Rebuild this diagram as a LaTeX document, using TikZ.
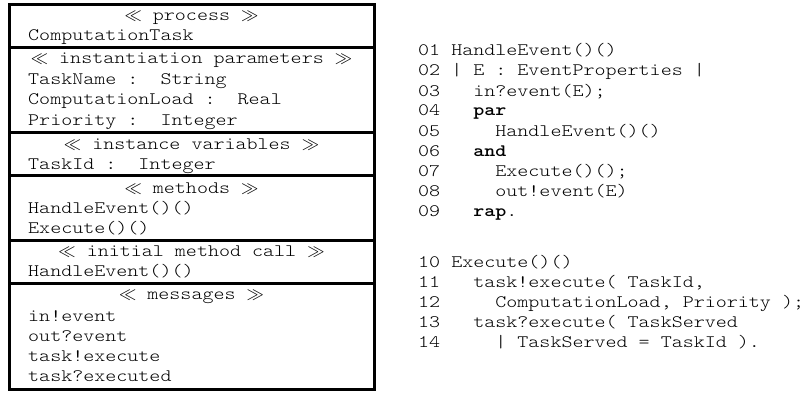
\documentclass[tikz,border=0pt]{standalone}
\usepackage{fontspec}
\setmonofont[BoldFont=lmmonolt10-bold.otf,FakeStretch=1.2]{lmmonolt10-regular.otf}
\newcommand{\guil}{\ensuremath{\ll}}
\newcommand{\guir}{\ensuremath{\gg}}
\begin{document}
\begin{tikzpicture}[x=1pt,y=-1pt,
  txt/.style={inner sep=0pt,anchor=base west,font=\fontsize{17.5}{20}\ttfamily},
  hdr/.style={inner sep=0pt,anchor=base,font=\fontsize{17.5}{20}\ttfamily},
  code/.style={inner sep=0pt,anchor=base west,font=\fontsize{17.5}{20}\ttfamily},
  frame/.style={line width=3pt},
  divider/.style={line width=3pt}]
\useasboundingbox (0,0) rectangle (810,393);
% class box
\def\R{374}
\def\C{191.5}
\draw[frame] (9,5) rectangle (\R,389);
\foreach \yy in {47.5,132,175.5,240,283}{\draw[divider] (9,\yy) -- (\R,\yy);}
\node[hdr] (h1) at (\C,21) {\guil\ process \guir};
\node[txt] (t1) at (28,41) {ComputationTask};
\node[hdr] (h2) at (\C,64) {\guil\ instantiation parameters \guir};
\node[txt] (t2) at (28,84.5) {TaskName :\ \ String};
\node[txt] (t3) at (28,105) {ComputationLoad :\ \ Real};
\node[txt] (t4) at (28,125.5) {Priority :\ \ Integer};
\node[hdr] (h3) at (\C,149) {\guil\ instance variables \guir};
\node[txt] (t5) at (28,169) {TaskId :\ \ Integer};
\node[hdr] (h4) at (\C,193) {\guil\ methods \guir};
\node[txt] (t6) at (28,213) {HandleEvent()()};
\node[txt] (t7) at (28,233) {Execute()()};
\node[hdr] (h5) at (\C,256) {\guil\ initial method call \guir};
\node[txt] (t8) at (28,276.5) {HandleEvent()()};
\node[hdr] (h6) at (\C,299.5) {\guil\ messages \guir};
\node[txt] (t9) at (28,321) {in!event};
\node[txt] (t10) at (28,341) {out?event};
\node[txt] (t11) at (28,361) {task!execute};
\node[txt] (t12) at (28,381) {task?executed};
% code listing
\node[code] (c1) at (418,56) {01 HandleEvent()()};
\node[code] (c2) at (418,76) {02 | E : EventProperties |};
\node[code] (c3) at (418,96) {03\ \ \ in?event(E);};
\node[code] (c4) at (418,116) {04\ \ \ \textbf{par}};
\node[code] (c5) at (418,136) {05\ \ \ \ \ HandleEvent()()};
\node[code] (c6) at (418,156) {06\ \ \ \textbf{and}};
\node[code] (c7) at (418,176) {07\ \ \ \ \ Execute()();};
\node[code] (c8) at (418,196) {08\ \ \ \ \ out!event(E)};
\node[code] (c9) at (418,216) {09\ \ \ \textbf{rap}.};
\node[code] (c10) at (418,267) {10 Execute()()};
\node[code] (c11) at (418,287) {11\ \ \ task!execute( TaskId,};
\node[code] (c12) at (418,307) {12\ \ \ \ \ ComputationLoad, Priority );};
\node[code] (c13) at (418,327) {13\ \ \ task?execute( TaskServed};
\node[code] (c14) at (418,347) {14\ \ \ \ \ | TaskServed = TaskId ).};
\end{tikzpicture}
\end{document}
